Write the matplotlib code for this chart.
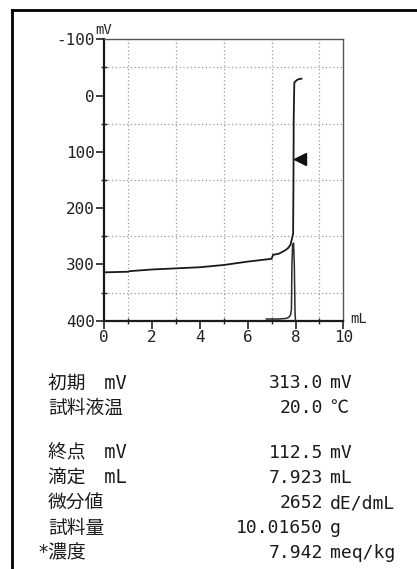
"""Potentiometric titration printout: curve plus result table."""

import matplotlib
matplotlib.use("Agg")
import matplotlib.pyplot as plt
from matplotlib.lines import Line2D
from matplotlib import font_manager

plt.rcParams["axes.unicode_minus"] = False

# titration curve (mL, mV)
TITRANT_ML = [0.0, 0.05, 1.0, 1.05, 2.0, 3.0, 4.0, 5.0, 6.0, 7.0, 7.06,
              7.3, 7.48, 7.6, 7.69, 7.79, 7.86, 7.90, 7.915, 7.925, 7.95, 8.04, 8.12, 8.25]
POTENTIAL_MV = [314, 314, 313, 312, 309, 307, 305, 301, 295, 290, 283,
                281, 277, 274, 271, 265, 253, 245, 150, 40, -23, -27, -29, -30]

# first derivative trace (drawn in the same mV frame)
DERIV_ML = [6.78, 7.3, 7.6, 7.72, 7.79, 7.83, 7.85, 7.88, 7.92, 7.95, 7.98, 8.0]
DERIV_MV = [397, 397, 396, 394, 390, 380, 300, 265, 262, 300, 385, 400]

# end point marker
ENDPOINT_ML = [8.2]
ENDPOINT_MV = [112.5]

X_TICKS = [0, 2, 4, 6, 8, 10]
Y_TICKS = [-100, 0, 100, 200, 300, 400]

ROW_LABELS = ["初期\u3000mV", "試料液温", "終点\u3000mV", "滴定\u3000mL", "微分値", "試料量", "*濃度"]
ROW_VALUES = ["313.0", "20.0", "112.5", "7.923", "2652", "10.01650", "7.942"]
ROW_UNITS = ["mV", "℃", "mV", "mL", "dE/dmL", "g", "meq/kg"]
ROW_Y_PX = [383, 408, 453, 478, 503, 528, 553]

W, H = 417, 569


def tick_font():
    names = {f.name for f in font_manager.fontManager.ttflist}
    for name in ["Liberation Sans Narrow", "DejaVu Sans Mono"]:
        if name in names:
            return name
    return "DejaVu Sans"


def main():
    fig = plt.figure(figsize=(W / 100, H / 100), dpi=100)
    fig.patch.set_facecolor("white")

    left, right, top, bottom = 104.3, 343.3, 39.3, 320.7
    ax = fig.add_axes([left / W, 1 - bottom / H, (right - left) / W, (bottom - top) / H])
    ax.set_xlim(0, 10)
    ax.set_ylim(400, -100)

    ax.plot(TITRANT_ML, POTENTIAL_MV, color="#1a1a1a", lw=1.3, solid_joinstyle="miter")
    ax.plot(DERIV_ML, DERIV_MV, color="#2a2a2a", lw=1.1)
    ax.plot(ENDPOINT_ML, ENDPOINT_MV, marker="<", color="#111111", ms=8, ls="none")

    ax.set_xticks(range(0, 11), minor=True)
    ax.set_yticks(range(-100, 401, 50), minor=True)
    ax.set_xticks(X_TICKS)
    ax.set_yticks(Y_TICKS)
    ax.grid(which="minor", color="#9a9a9a", ls=(0, (1, 2)), lw=0.9)
    ax.tick_params(which="minor", direction="inout", length=5, width=1, color="#222222")
    ax.tick_params(which="major", direction="out", length=6, width=1.2, color="#222222")
    fam = tick_font()
    for lab in ax.get_xticklabels() + ax.get_yticklabels():
        lab.set_family(fam)
        lab.set_fontsize(11.5)
        lab.set_color("#222222")
    ax.tick_params(axis="x", pad=1)
    ax.tick_params(axis="y", pad=1)

    for side in ["left", "bottom"]:
        ax.spines[side].set_linewidth(1.6)
        ax.spines[side].set_color("#1a1a1a")
    for side in ["top", "right"]:
        ax.spines[side].set_linewidth(1.0)
        ax.spines[side].set_color("#555555")

    fig.text(103.5 / W, 1 - 30 / H, "mV", family=fam, fontsize=10, ha="center", va="center", color="#222222")
    fig.text(350 / W, 1 - 319 / H, "mL", family=fam, fontsize=10, ha="left", va="center", color="#222222")

    # printout frame
    fig.add_artist(Line2D([12 / W, 1.0], [1 - 9.5 / H, 1 - 9.5 / H], color="black", lw=2, transform=fig.transFigure))
    fig.add_artist(Line2D([12 / W, 12 / W], [0.0, 1 - 9.5 / H], color="black", lw=2, transform=fig.transFigure))

    mixed = ["DejaVu Sans Mono", "Noto Sans CJK JP"]
    for label, value, unit, ypx in zip(ROW_LABELS, ROW_VALUES, ROW_UNITS, ROW_Y_PX):
        x0 = 37 if label.startswith("*") else 48
        fig.text(x0 / W, 1 - ypx / H, label, family=mixed, fontsize=13.5, ha="left", va="center", color="#1a1a1a")
        fig.text(323 / W, 1 - ypx / H, value, family=mixed, fontsize=13, ha="right", va="center", color="#1a1a1a")
        fig.text(330 / W, 1 - ypx / H, unit, family=mixed, fontsize=13, ha="left", va="center", color="#1a1a1a")

    fig.savefig("out.png", dpi=100)


if __name__ == "__main__":
    main()
